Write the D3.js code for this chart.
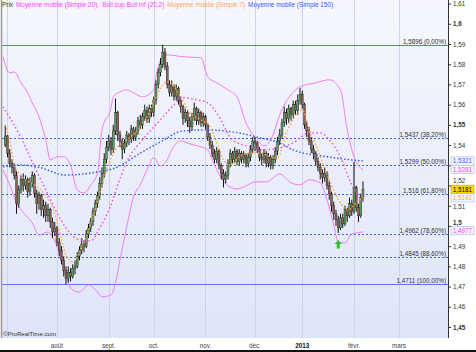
<!DOCTYPE html>
<html>
<head>
<meta charset="utf-8">
<script src="https://cdn.jsdelivr.net/npm/d3@7"></script>
<style>
body { margin: 0; background: #fff; }
svg text { font-family: "Liberation Sans", Arial, sans-serif; }
</style>
</head>
<body>
<script>
// trading-day index: 0 = 1 août 2012, first candle at -23
const firstIdx = -23;
const opens = [
  1.5400,1.5445,1.5360,1.5310,1.5290,1.5250,1.5110,1.5180,1.5230,1.5200,
  1.5230,1.5170,1.5210,1.5250,1.5160,1.5110,1.5150,1.5080,1.5100,1.5050,
  1.5080,1.5020,1.4970,1.4990,1.4920,1.4880,1.4830,1.4780,1.4740,1.4770,
  1.4750,1.4790,1.4800,1.4850,1.4880,1.4910,1.4900,1.4960,1.4990,1.5020,
  1.5070,1.5110,1.5150,1.5210,1.5260,1.5330,1.5390,1.5420,1.5380,1.5470,
  1.5560,1.5450,1.5420,1.5380,1.5410,1.5450,1.5430,1.5480,1.5440,1.5470,
  1.5520,1.5500,1.5540,1.5570,1.5530,1.5580,1.5560,1.5620,1.5700,1.5760,
  1.5800,1.5860,1.5790,1.5700,1.5660,1.5690,1.5640,1.5680,1.5620,1.5590,
  1.5530,1.5560,1.5520,1.5490,1.5540,1.5580,1.5520,1.5560,1.5510,1.5540,
  1.5500,1.5440,1.5400,1.5360,1.5330,1.5370,1.5300,1.5260,1.5230,1.5250,
  1.5310,1.5360,1.5330,1.5370,1.5320,1.5360,1.5330,1.5350,1.5310,1.5340,
  1.5380,1.5420,1.5410,1.5380,1.5340,1.5330,1.5360,1.5310,1.5340,1.5300,
  1.5330,1.5370,1.5420,1.5450,1.5510,1.5560,1.5530,1.5580,1.5550,1.5600,
  1.5570,1.5620,1.5650,1.5600,1.5500,1.5470,1.5420,1.5380,1.5360,1.5320,
  1.5290,1.5260,1.5240,1.5260,1.5200,1.5160,1.5100,1.5060,1.5030,1.4990,
  1.5040,1.5010,1.5080,1.5050,1.5110,1.5070,1.5190,1.5090,1.5050,1.5140];
const highs = [
  1.5500,1.5450,1.5380,1.5330,1.5310,1.5270,1.5200,1.5250,1.5260,1.5250,
  1.5240,1.5240,1.5270,1.5260,1.5180,1.5170,1.5160,1.5130,1.5120,1.5110,
  1.5090,1.5040,1.5020,1.5000,1.4940,1.4900,1.4850,1.4800,1.4800,1.4790,
  1.4810,1.4830,1.4870,1.4900,1.4940,1.4930,1.4980,1.5010,1.5040,1.5090,
  1.5130,1.5170,1.5240,1.5290,1.5360,1.5420,1.5450,1.5440,1.5500,1.5630,
  1.5570,1.5470,1.5430,1.5430,1.5470,1.5460,1.5500,1.5490,1.5490,1.5540,
  1.5550,1.5560,1.5600,1.5590,1.5600,1.5600,1.5640,1.5720,1.5780,1.5830,
  1.5896,1.5880,1.5810,1.5720,1.5720,1.5700,1.5700,1.5690,1.5640,1.5600,
  1.5580,1.5570,1.5540,1.5560,1.5610,1.5590,1.5580,1.5570,1.5560,1.5550,
  1.5510,1.5460,1.5420,1.5380,1.5390,1.5380,1.5310,1.5280,1.5270,1.5330,
  1.5380,1.5370,1.5390,1.5380,1.5380,1.5370,1.5370,1.5360,1.5360,1.5400,
  1.5440,1.5440,1.5420,1.5390,1.5360,1.5380,1.5370,1.5360,1.5350,1.5350,
  1.5390,1.5440,1.5480,1.5530,1.5590,1.5580,1.5600,1.5590,1.5620,1.5620,
  1.5650,1.5683,1.5670,1.5610,1.5520,1.5490,1.5440,1.5400,1.5370,1.5340,
  1.5310,1.5280,1.5290,1.5270,1.5220,1.5170,1.5120,1.5080,1.5050,1.5060,
  1.5060,1.5100,1.5090,1.5140,1.5130,1.5317,1.5200,1.5110,1.5160,1.5220];
const lows = [
  1.5390,1.5340,1.5290,1.5260,1.5230,1.5060,1.5090,1.5160,1.5170,1.5180,
  1.5140,1.5150,1.5190,1.5140,1.5060,1.5080,1.5050,1.5040,1.5020,1.5020,
  1.4990,1.4940,1.4950,1.4900,1.4850,1.4810,1.4750,1.4711,1.4720,1.4725,
  1.4740,1.4760,1.4790,1.4830,1.4860,1.4870,1.4890,1.4940,1.4970,1.5000,
  1.5050,1.5090,1.5130,1.5190,1.5240,1.5310,1.5370,1.5350,1.5360,1.5450,
  1.5420,1.5390,1.5330,1.5360,1.5390,1.5400,1.5410,1.5420,1.5420,1.5450,
  1.5480,1.5480,1.5520,1.5510,1.5510,1.5540,1.5540,1.5600,1.5680,1.5740,
  1.5780,1.5770,1.5680,1.5640,1.5640,1.5620,1.5620,1.5600,1.5560,1.5500,
  1.5510,1.5490,1.5460,1.5470,1.5520,1.5500,1.5500,1.5490,1.5490,1.5480,
  1.5420,1.5380,1.5340,1.5310,1.5310,1.5280,1.5230,1.5190,1.5210,1.5230,
  1.5290,1.5310,1.5310,1.5300,1.5300,1.5310,1.5310,1.5290,1.5290,1.5320,
  1.5360,1.5370,1.5360,1.5320,1.5300,1.5310,1.5290,1.5290,1.5280,1.5280,
  1.5310,1.5350,1.5400,1.5430,1.5490,1.5500,1.5510,1.5520,1.5530,1.5550,
  1.5550,1.5600,1.5580,1.5480,1.5440,1.5400,1.5360,1.5330,1.5300,1.5270,
  1.5230,1.5210,1.5220,1.5180,1.5130,1.5070,1.5030,1.5000,1.4965,1.4980,
  1.4990,1.5000,1.5020,1.5040,1.5050,1.5060,1.5070,1.5020,1.5040,1.5120];
const closes = [
  1.5445,1.5360,1.5310,1.5290,1.5250,1.5110,1.5180,1.5230,1.5200,1.5230,
  1.5170,1.5210,1.5250,1.5160,1.5110,1.5150,1.5080,1.5100,1.5050,1.5080,
  1.5020,1.4970,1.4990,1.4920,1.4880,1.4830,1.4780,1.4740,1.4770,1.4750,
  1.4790,1.4800,1.4850,1.4880,1.4910,1.4900,1.4960,1.4990,1.5020,1.5070,
  1.5110,1.5150,1.5210,1.5260,1.5330,1.5390,1.5420,1.5380,1.5470,1.5560,
  1.5450,1.5420,1.5380,1.5410,1.5450,1.5430,1.5480,1.5440,1.5470,1.5520,
  1.5500,1.5540,1.5570,1.5530,1.5580,1.5560,1.5620,1.5700,1.5760,1.5800,
  1.5860,1.5790,1.5700,1.5660,1.5690,1.5640,1.5680,1.5620,1.5590,1.5530,
  1.5560,1.5520,1.5490,1.5540,1.5580,1.5520,1.5560,1.5510,1.5540,1.5500,
  1.5440,1.5400,1.5360,1.5330,1.5370,1.5300,1.5260,1.5230,1.5250,1.5310,
  1.5360,1.5330,1.5370,1.5320,1.5360,1.5330,1.5350,1.5310,1.5340,1.5380,
  1.5420,1.5410,1.5380,1.5340,1.5330,1.5360,1.5310,1.5340,1.5300,1.5330,
  1.5370,1.5420,1.5450,1.5510,1.5560,1.5530,1.5580,1.5550,1.5600,1.5570,
  1.5620,1.5650,1.5600,1.5500,1.5470,1.5420,1.5380,1.5360,1.5320,1.5290,
  1.5260,1.5240,1.5260,1.5200,1.5160,1.5100,1.5060,1.5030,1.4990,1.5040,
  1.5010,1.5080,1.5050,1.5110,1.5070,1.5190,1.5090,1.5050,1.5140,1.5181];

// indicator lines, read at sample days
const ma7Idx = [-23,-21,-19,-14,-10,-6,-2,1,4,7,10,13,16,19,22,27,31,36,40,44,49,55,59,64,68,71,74,77,81,86,90,95,98,102,107,109,112,116,118,121,126,129,133,136];
const ma7Val = [1.5500,1.5426,1.5302,1.5228,1.5203,1.5163,1.5094,1.4980,1.4856,1.4822,1.4871,1.4946,1.5045,1.5163,1.5277,1.5391,1.5426,1.5475,1.5540,1.5639,1.5713,1.5639,1.5559,1.5525,1.5490,1.5411,1.5327,1.5302,1.5342,1.5361,1.5361,1.5342,1.5337,1.5460,1.5559,1.5574,1.5475,1.5376,1.5312,1.5228,1.5114,1.5079,1.5114,1.5144];
const ma20Idx = [-24,-16,-11,-5,0,4,10,15,19,24,27,31,38,46,52,56,62,67,71,78,86,92,99,105,112,117,121,126,130,136];
const ma20Val = [1.5589,1.5436,1.5317,1.5178,1.5064,1.4990,1.4931,1.4926,1.4990,1.5104,1.5203,1.5317,1.5426,1.5525,1.5599,1.5634,1.5624,1.5609,1.5559,1.5426,1.5391,1.5376,1.5386,1.5411,1.5460,1.5460,1.5426,1.5342,1.5228,1.5114];
const ma150Idx = [-24,-16,-8,4,15,27,37,46,56,66,81,90,99,105,120,136];
const ma150Val = [1.5292,1.5302,1.5290,1.5252,1.5262,1.5292,1.5360,1.5416,1.5470,1.5475,1.5460,1.5436,1.5411,1.5376,1.5342,1.5321];
const bollUpIdx = [-24,-21,-19,-16,-13,-11,-8,-5,-3,0,3,6,9,12,15,18,20,24,25,28,31,34,38,43,44,48,56,64,67,71,76,80,84,89,92,96,99,104,108,115,121,126,129,132,136];
const bollUpVal = [1.5837,1.5757,1.5762,1.5708,1.5658,1.5609,1.5540,1.5426,1.5327,1.5342,1.5342,1.5302,1.5178,1.5163,1.5203,1.5262,1.5475,1.5584,1.5639,1.5663,1.5673,1.5658,1.5639,1.5673,1.5738,1.5847,1.5837,1.5832,1.5738,1.5708,1.5673,1.5639,1.5510,1.5426,1.5396,1.5450,1.5550,1.5649,1.5688,1.5708,1.5723,1.5673,1.5475,1.5342,1.5277];
const bollDnIdx = [-24,-21,-18,-14,-11,-8,-4,-2,1,4,7,10,14,18,20,24,26,28,31,34,37,40,43,46,49,51,55,59,64,67,70,76,80,84,88,93,99,104,108,112,117,120,123,125,128,131,136];
const bollDnVal = [1.5277,1.5203,1.5114,1.5054,1.5015,1.4955,1.4970,1.4946,1.4866,1.4748,1.4683,1.4673,1.4708,1.4673,1.4649,1.4658,1.4718,1.4832,1.4995,1.5144,1.5203,1.5277,1.5337,1.5297,1.5327,1.5376,1.5421,1.5406,1.5391,1.5376,1.5302,1.5198,1.5183,1.5198,1.5218,1.5218,1.5257,1.5213,1.5203,1.5228,1.5213,1.5129,1.5005,1.4921,1.4916,1.4960,1.4970];

const fibLevels = [1.5896, 1.5437, 1.5299, 1.516, 1.4962, 1.4845, 1.4711];
const fibLabels = ["1,5896 (0,00%)", "1,5437 (38,20%)", "1,5299 (50,00%)", "1,516 (61,80%)", "1,4962 (78,60%)", "1,4845 (88,60%)", "1,4711 (100,00%)"];

const gridIdx = [-22, 0, 23, 43, 66, 88, 109, 132, 152];
const monthIdx = [0, 23, 43, 66, 88, 109, 132, 152];
const monthLabels = ["août", "sept.", "oct.", "nov.", "déc.", "2013", "févr.", "mars"];

const yTicks = [1.45, 1.46, 1.47, 1.48, 1.49, 1.50, 1.51, 1.52, 1.53, 1.54, 1.55, 1.56, 1.57, 1.58, 1.59, 1.60, 1.61];

const lastValues = [1.5321, 1.5281, 1.5181, 1.5141, 1.4977];
const lastColors = ["#3a5cff", "#ff3cff", "#000000", "#ffa64d", "#ff3cff"];

const legendTexts = ["Prix", "Moyenne mobile (Simple 20).", "Boll sup Boll inf (20,2)", "Moyenne mobile (Simple 7)", "Moyenne mobile (Simple 150)"];
const legendColors = ["#333333", "#ff3cff", "#ff3cff", "#ffa64d", "#3a5cff"];

const arrowIdx = 125;

// ---------- layout ----------
const W = 476, H = 352;
const plot = { l: 2, r: 448, t: 0, b: 338 };

const svg = d3.select("body").append("svg")
    .attr("width", W).attr("height", H);

const x = d3.scaleLinear().domain([-24.44, 173.78]).range([plot.l, plot.r]);
const y = d3.scaleLinear().domain([1.44456, 1.61177]).range([plot.b, plot.t]);

const defs = svg.append("defs");
const grad = defs.append("linearGradient").attr("id", "bg")
    .attr("x1", 0).attr("y1", 0).attr("x2", 0).attr("y2", 1);
grad.append("stop").attr("offset", "0%").attr("stop-color", "#f6f7fe");
grad.append("stop").attr("offset", "100%").attr("stop-color", "#dfe5f8");
defs.append("clipPath").attr("id", "clip").append("rect")
    .attr("x", plot.l).attr("y", plot.t)
    .attr("width", plot.r - plot.l).attr("height", plot.b - plot.t);

svg.append("rect").attr("x", plot.l).attr("y", plot.t)
    .attr("width", plot.r - plot.l).attr("height", plot.b - plot.t)
    .attr("fill", "url(#bg)");

// month grid
svg.append("g").selectAll("line").data(gridIdx).join("line")
    .attr("x1", d => Math.round(x(d)) + 0.5).attr("x2", d => Math.round(x(d)) + 0.5)
    .attr("y1", plot.t).attr("y2", plot.b)
    .attr("stroke", "#cdd3e8").attr("stroke-width", 1);

const body = svg.append("g").attr("clip-path", "url(#clip)");

// fibonacci lines
const solid = i => i === 0 || i === fibLevels.length - 1;
body.append("g").selectAll("line").data(fibLevels).join("line")
    .attr("x1", plot.l).attr("x2", plot.r)
    .attr("y1", d => Math.round(y(d)) + 0.5).attr("y2", d => Math.round(y(d)) + 0.5)
    .attr("stroke", (d, i) => solid(i) ? "#5b78e6" : "#3f63f2")
    .attr("stroke-width", 1)
    .attr("stroke-dasharray", (d, i) => solid(i) ? null : "2,2");

svg.append("g").selectAll("text").data(fibLabels).join("text")
    .attr("x", plot.r - 2).attr("y", (d, i) => Math.round(y(fibLevels[i])) - 1.5)
    .attr("text-anchor", "end").attr("font-size", 6.3).attr("fill", "#333")
    .text(d => d);

function series(idx, val) {
    return idx.map((d, i) => [d, val[i]]);
}
const line = d3.line().x(d => x(d[0])).y(d => y(d[1])).curve(d3.curveMonotoneX);

// bollinger bands
body.append("path").datum(series(bollUpIdx, bollUpVal)).attr("d", line)
    .attr("fill", "none").attr("stroke", "#f37cf3").attr("stroke-width", 1);
body.append("path").datum(series(bollDnIdx, bollDnVal)).attr("d", line)
    .attr("fill", "none").attr("stroke", "#f37cf3").attr("stroke-width", 1);

// candles
const candles = closes.map((c, i) => ({ i: firstIdx + i, o: opens[i], h: highs[i], l: lows[i], c: c }));
const cg = body.append("g");
cg.selectAll("line").data(candles).join("line")
    .attr("x1", d => x(d.i)).attr("x2", d => x(d.i))
    .attr("y1", d => y(d.h)).attr("y2", d => y(d.l))
    .attr("stroke", "#111").attr("stroke-width", 1);
cg.selectAll("rect").data(candles).join("rect")
    .attr("x", d => x(d.i) - 1).attr("width", 2)
    .attr("y", d => y(Math.max(d.o, d.c)))
    .attr("height", d => Math.max(1, Math.abs(y(d.o) - y(d.c))))
    .attr("fill", d => d.c >= d.o ? "#5e9a5c" : "#8e5e52")
    .attr("stroke", "#222").attr("stroke-width", 0.4);

// moving averages
body.append("path").datum(series(ma150Idx, ma150Val)).attr("d", line)
    .attr("fill", "none").attr("stroke", "#2f5cf0").attr("stroke-width", 1.4)
    .attr("stroke-dasharray", "1.5,2");
body.append("path").datum(series(ma20Idx, ma20Val)).attr("d", line)
    .attr("fill", "none").attr("stroke", "#f046f0").attr("stroke-width", 1.4)
    .attr("stroke-dasharray", "1.5,2.5");
body.append("path").datum(series(ma7Idx, ma7Val)).attr("d", line)
    .attr("fill", "none").attr("stroke", "#ffa640").attr("stroke-width", 1.4)
    .attr("stroke-dasharray", "1.5,2");

// signal arrow below the low
const ax = x(arrowIdx), ay = y(lows[arrowIdx - firstIdx]) + 7;
svg.append("path")
    .attr("d", `M${ax},${ay} l3.5,4 h-2 v4.5 h-3 v-4.5 h-2 z`)
    .attr("fill", "#22cc22");

// frame
svg.append("line").attr("x1", 1.5).attr("x2", 1.5).attr("y1", 0).attr("y2", plot.b)
    .attr("stroke", "#999").attr("stroke-width", 1.5);
svg.append("line").attr("x1", plot.r + 0.5).attr("x2", plot.r + 0.5).attr("y1", 0).attr("y2", plot.b)
    .attr("stroke", "#333").attr("stroke-width", 1);
svg.append("rect").attr("x", 0).attr("y", 350).attr("width", W).attr("height", 2).attr("fill", "#111");

// last value boxes (stacked so they do not overlap)
const boxH = 8.4;
const boxes = lastValues.map((v, i) => ({ v: v, c: lastColors[i], y: y(v), price: i === 2 }))
    .sort((a, b) => a.y - b.y);
boxes.forEach((b, i) => { if (i > 0 && b.y < boxes[i - 1].y + boxH) b.y = boxes[i - 1].y + boxH; });

// right axis: labels hidden behind a box are nudged beside it, or dropped if no room
const labelHalf = 4.2;
function labelY(v) {
    let ly = y(v);
    for (const b of boxes) {
        if (Math.abs(ly - b.y) < boxH / 2 + labelHalf) {
            ly = ly < b.y ? b.y - boxH / 2 - labelHalf : b.y + boxH / 2 + labelHalf;
        }
    }
    const hit = boxes.some(b => Math.abs(ly - b.y) < boxH / 2 + labelHalf - 0.5);
    return hit ? null : ly;
}
const fmt = v => d3.format(".2~f")(v).replace(".", ",");
const yAxis = svg.append("g").attr("transform", `translate(${plot.r},0)`)
    .call(d3.axisRight(y).tickValues(yTicks).tickSize(3).tickPadding(2).tickFormat(fmt));
yAxis.select(".domain").remove();
yAxis.selectAll("line").attr("stroke", "#333");
yAxis.selectAll("text")
    .attr("font-size", 6.3).attr("fill", "#333")
    .attr("font-weight", d => Math.round(d * 100) % 5 === 0 ? "bold" : null)
    .style("font-family", '"Liberation Sans", Arial, sans-serif')
    .each(function(d) {
        const ly = labelY(d);
        if (ly === null) d3.select(this).remove();
        else d3.select(this).attr("y", ly - y(d));
    });

const bg = svg.append("g").selectAll("g").data(boxes).join("g")
    .attr("transform", d => `translate(${plot.r + 3},${d.y})`);
bg.append("rect").attr("x", 0).attr("y", -boxH / 2).attr("width", 23).attr("height", boxH)
    .attr("fill", d => d.price ? "#ffd400" : "#f4f6ff")
    .attr("stroke", d => d.price ? "#c9a800" : "#a9b6dc").attr("stroke-width", 0.6);
bg.append("text").attr("x", 11.5).attr("y", 2.3).attr("text-anchor", "middle")
    .attr("font-size", 6.3).attr("fill", d => d.c)
    .text(d => d3.format(".4f")(d.v).replace(".", ","));

// month labels
svg.append("g").selectAll("text").data(monthIdx).join("text")
    .attr("x", d => x(d)).attr("y", 347.5).attr("text-anchor", "middle")
    .attr("font-size", 6.3)
    .attr("font-weight", (d, i) => monthLabels[i] === "2013" ? "bold" : null)
    .attr("fill", (d, i) => monthLabels[i] === "2013" ? "#111" : "#444")
    .text((d, i) => monthLabels[i]);

svg.append("text").attr("x", 3).attr("y", 336).attr("font-size", 6.1).attr("fill", "#333")
    .text("\u00a9ProRealTime.com");

// legend
let lx = 2;
legendTexts.forEach((t, i) => {
    const el = svg.append("text").attr("x", lx).attr("y", 7)
        .attr("font-size", 6.4).attr("fill", legendColors[i]).text(t);
    lx += el.node().getComputedTextLength() + 3;
});
</script>
</body>
</html>
